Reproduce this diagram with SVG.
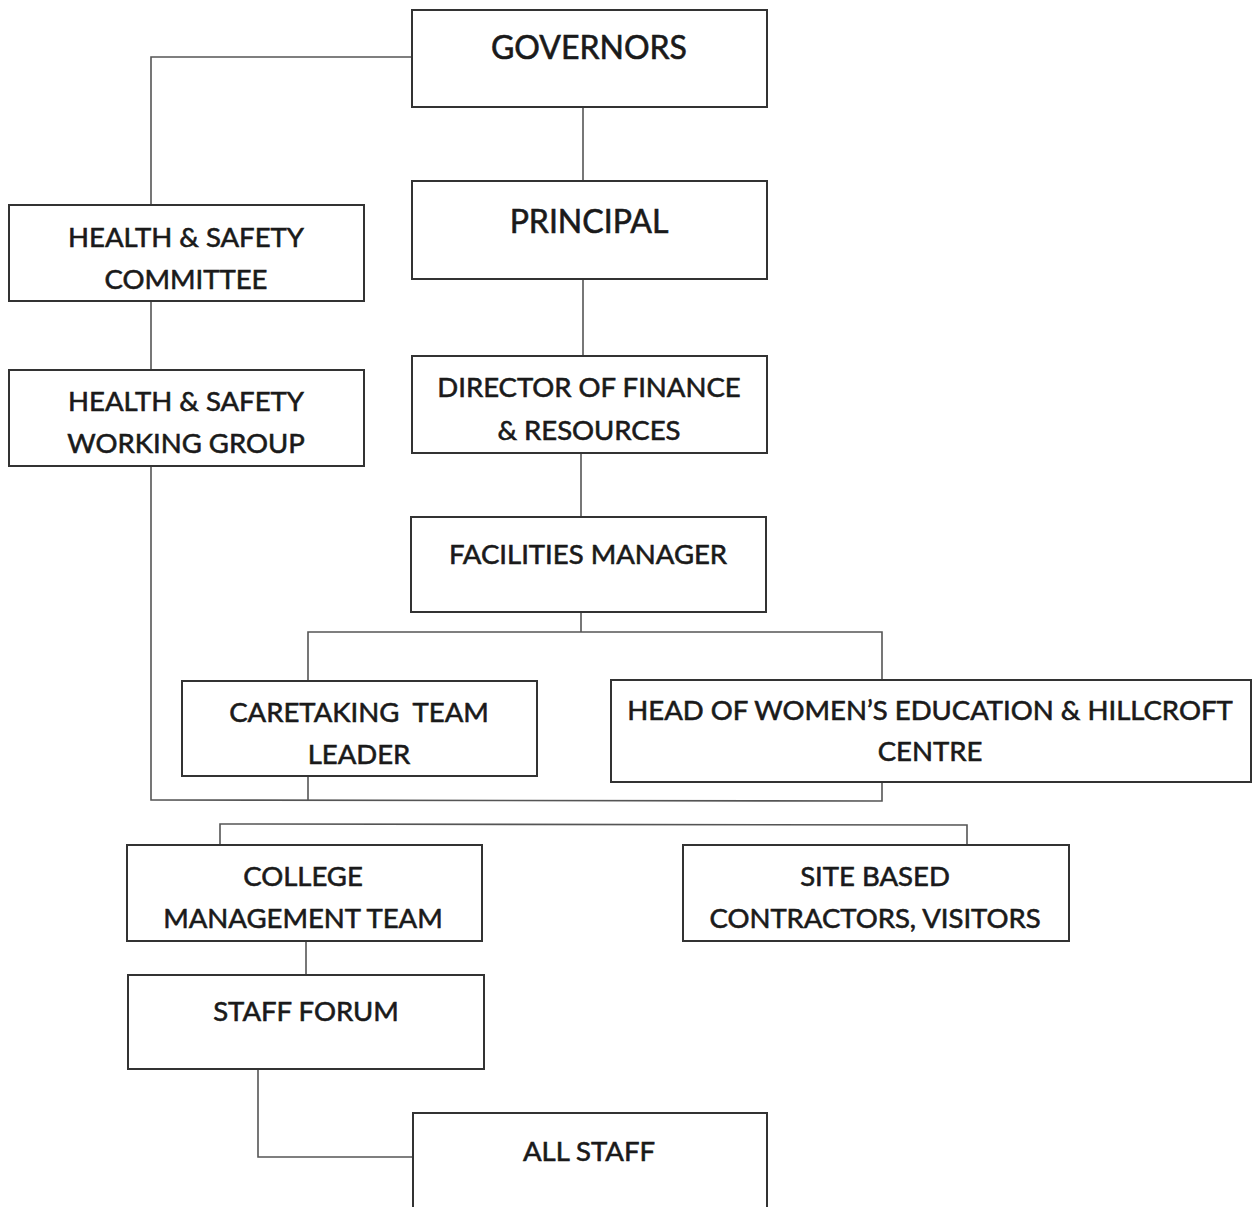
<svg xmlns="http://www.w3.org/2000/svg" width="1260" height="1207" viewBox="0 0 1260 1207">
<style>
.box{fill:#fff;stroke:#333;stroke-width:2}
.ln{fill:none;stroke:#555;stroke-width:1.6}
text{font-family:Lato,"Open Sans","Liberation Sans",sans-serif;fill:#1a1a1a;stroke:#1a1a1a;stroke-width:0.6;text-anchor:middle}
.big{font-size:32px}
.t{font-size:27.5px}
</style>
<rect width="1260" height="1207" fill="#fff"/>
<g id="connectors">
<polyline class="ln" points="412,57 151,57 151,205"/>
<line class="ln" x1="583" y1="107" x2="583" y2="181"/>
<line class="ln" x1="583" y1="279" x2="583" y2="356"/>
<line class="ln" x1="581" y1="453" x2="581" y2="517"/>
<line class="ln" x1="581" y1="612" x2="581" y2="632"/>
<polyline class="ln" points="308,681 308,632 882,632 882,680"/>
<line class="ln" x1="151" y1="301" x2="151" y2="370"/>
<polyline class="ln" points="151,466 151,800 882,801 882,782"/>
<line class="ln" x1="308" y1="776" x2="308" y2="800"/>
<polyline class="ln" points="220,845 220,824 967,825 967,845"/>
<line class="ln" x1="306" y1="941" x2="306" y2="975"/>
<polyline class="ln" points="258,1069 258,1157 413,1157"/>
</g>
<g id="governors"><rect class="box" x="412" y="10" width="355" height="97"/><text class="big" x="589" y="59">GOVERNORS</text></g>
<g id="principal"><rect class="box" x="412" y="181" width="355" height="98"/><text class="big" x="589" y="233">PRINCIPAL</text></g>
<g id="hs-committee"><rect class="box" x="9" y="205" width="355" height="96"/><text class="t" x="186" y="247">HEALTH &amp; SAFETY</text><text class="t" x="186" y="289">COMMITTEE</text></g>
<g id="hs-working-group"><rect class="box" x="9" y="370" width="355" height="96"/><text class="t" x="186" y="411">HEALTH &amp; SAFETY</text><text class="t" x="186" y="453">WORKING GROUP</text></g>
<g id="director"><rect class="box" x="412" y="356" width="355" height="97"/><text class="t" x="589" y="397">DIRECTOR OF FINANCE</text><text class="t" x="589" y="440">&amp; RESOURCES</text></g>
<g id="facilities"><rect class="box" x="411" y="517" width="355" height="95"/><text class="t" x="588" y="564">FACILITIES MANAGER</text></g>
<g id="caretaking"><rect class="box" x="182" y="681" width="355" height="95"/><text class="t" x="359" y="722" xml:space="preserve">CARETAKING  TEAM</text><text class="t" x="359" y="764">LEADER</text></g>
<g id="head-womens"><rect class="box" x="611" y="680" width="640" height="102"/><text class="t" x="930" y="720">HEAD OF WOMEN’S EDUCATION &amp; HILLCROFT</text><text class="t" x="930" y="761">CENTRE</text></g>
<g id="cmt"><rect class="box" x="127" y="845" width="355" height="96"/><text class="t" x="303" y="886">COLLEGE</text><text class="t" x="303" y="928">MANAGEMENT TEAM</text></g>
<g id="site"><rect class="box" x="683" y="845" width="386" height="96"/><text class="t" x="875" y="886">SITE BASED</text><text class="t" x="875" y="928">CONTRACTORS, VISITORS</text></g>
<g id="staff-forum"><rect class="box" x="128" y="975" width="356" height="94"/><text class="t" x="306" y="1021">STAFF FORUM</text></g>
<g id="all-staff"><rect class="box" x="413" y="1113" width="354" height="110"/><text class="t" x="589" y="1161">ALL STAFF</text></g>
</svg>
